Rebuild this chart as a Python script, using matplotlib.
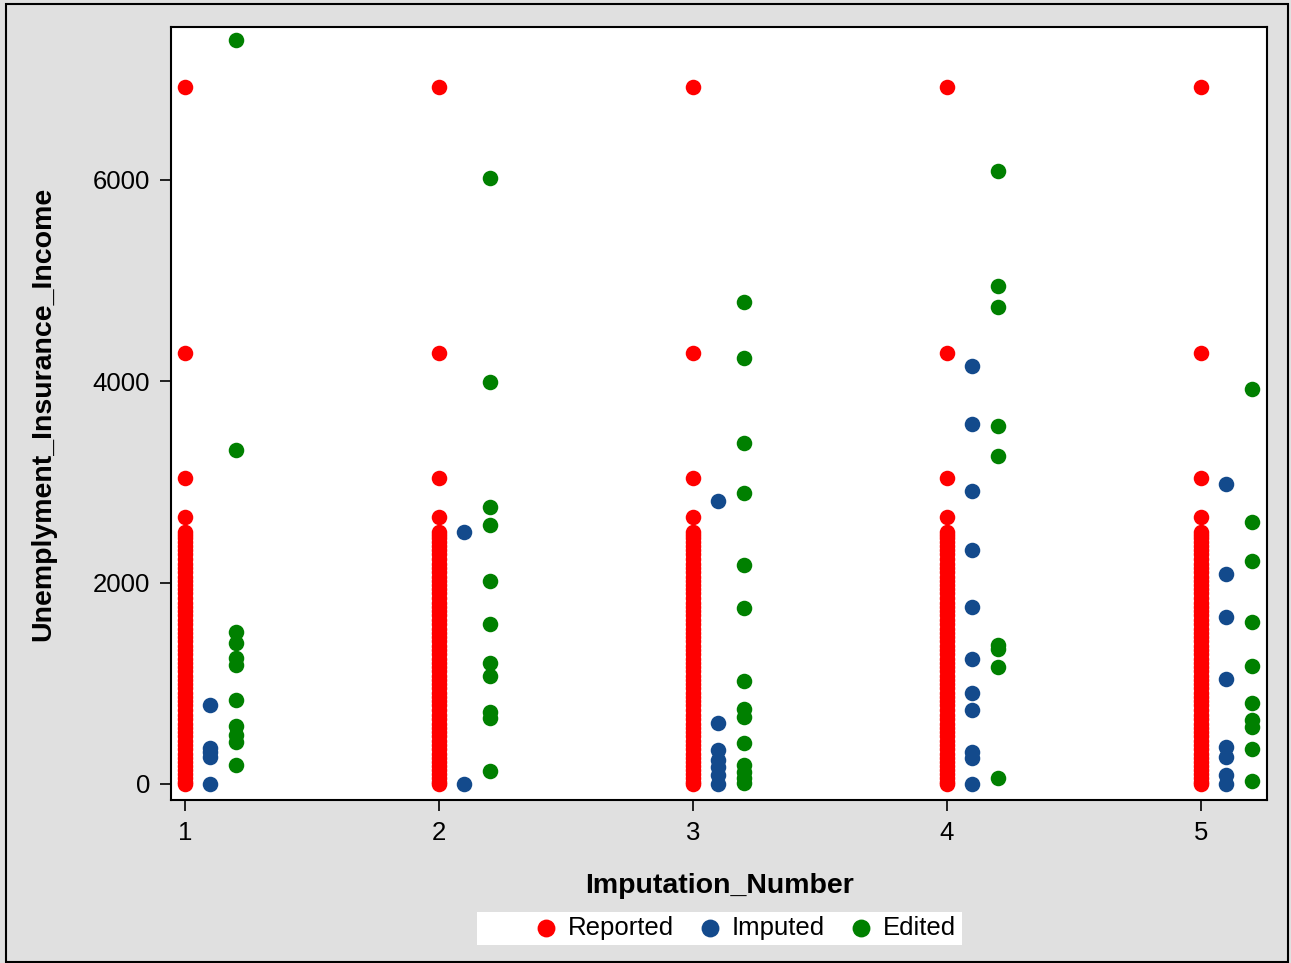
import matplotlib
matplotlib.use("Agg")
import numpy as np
from matplotlib import pyplot as plt
from matplotlib.patches import Rectangle

plt.rcParams['font.family'] = ['Liberation Sans', 'DejaVu Sans']

# reported values are the same in every imputation
reported = [6924, 4282, 3040, 2655, 2500, 2470, 2440, 2400, 2360, 2320, 2280, 2230,
            2190, 2150, 2110, 2060, 2020, 1980, 1940, 1900, 1850, 1800, 1760, 1720,
            1680, 1630, 1590, 1540, 1500, 1460, 1420, 1370, 1330, 1290, 1240, 1200,
            1160, 1120, 1070, 1030, 990, 950, 900, 860, 820, 780, 730, 690, 650,
            600, 560, 520, 480, 430, 390, 350, 300, 260, 220, 180, 140, 100, 60, 20, 0]

imputed = {
    1: [785, 358, 320, 268, 0],
    2: [2503, 0],
    3: [2810, 610, 340, 240, 170, 90, 0],
    4: [4150, 3580, 2910, 2320, 1760, 1240, 900, 735, 318, 258, 0],
    5: [2980, 2086, 1659, 1043, 368, 268, 89, 0],
}
edited = {
    1: [7390, 3320, 1510, 1400, 1250, 1180, 834, 580, 490, 420, 189],
    2: [6020, 3993, 2750, 2573, 2017, 1590, 1200, 1073, 715, 656, 130],
    3: [4790, 4230, 3390, 2890, 2180, 1750, 1020, 740, 670, 410, 190, 120, 60, 10],
    4: [6090, 4950, 4740, 3560, 3260, 1380, 1340, 1160, 60],
    5: [3924, 2603, 2215, 1609, 1172, 805, 636, 566, 348, 30],
}
imp_numbers = [1, 2, 3, 4, 5]

c_rep = '#FF0000'
c_imp = '#134A8C'
c_edit = '#008000'

fig = plt.figure(figsize=(12.91, 9.63), dpi=100)
fig.patch.set_facecolor('#E0E0E0')
fig.patches.append(Rectangle((0.005, 0.001), 0.993, 0.995, transform=fig.transFigure,
                             fill=False, edgecolor='black', linewidth=1.5))

ax = fig.add_axes([0.1325, 0.1693, 0.8489, 0.8027])
ax.set_facecolor('white')

ms = 125
for n in imp_numbers:
    ax.scatter([n] * len(reported), reported, s=ms, color=c_rep, linewidths=0,
               label='Reported' if n == 1 else None, zorder=3)
    ax.scatter([n + 0.1] * len(imputed[n]), imputed[n], s=ms, color=c_imp, linewidths=0,
               label='Imputed' if n == 1 else None, zorder=3)
    ax.scatter([n + 0.2] * len(edited[n]), edited[n], s=ms, color=c_edit, linewidths=0,
               label='Edited' if n == 1 else None, zorder=3)

ax.set_xlim(0.945, 5.26)
ax.set_ylim(-159, 7520)
ax.set_xticks(imp_numbers)
ax.set_yticks([0, 2000, 4000, 6000])
ax.tick_params(axis='both', labelsize=18.5, length=8, width=1.2, direction='out', pad=7)
for sp in ax.spines.values():
    sp.set_linewidth(1.5)

ax.set_xlabel('Imputation_Number', fontsize=20.5, fontweight='bold', labelpad=20)
ax.set_ylabel('Unemplyment_Insurance_Income', fontsize=20.5, fontweight='bold', labelpad=26)

# white legend strip below the plot
fig.patches.append(Rectangle((477 / 1291, 1 - 945 / 963), 485 / 1291, 33 / 963,
                             transform=fig.transFigure, facecolor='white', edgecolor='none'))
handles, labels = ax.get_legend_handles_labels()
fig.legend(handles, labels, loc='center', bbox_to_anchor=(743 / 1291, 1 - 928 / 963),
           ncol=3, frameon=False, fontsize=18.5, handletextpad=0.2, columnspacing=0.8,
           markerscale=1.15, handlelength=1.25)

fig.savefig('out.png', dpi=100, facecolor=fig.get_facecolor())
